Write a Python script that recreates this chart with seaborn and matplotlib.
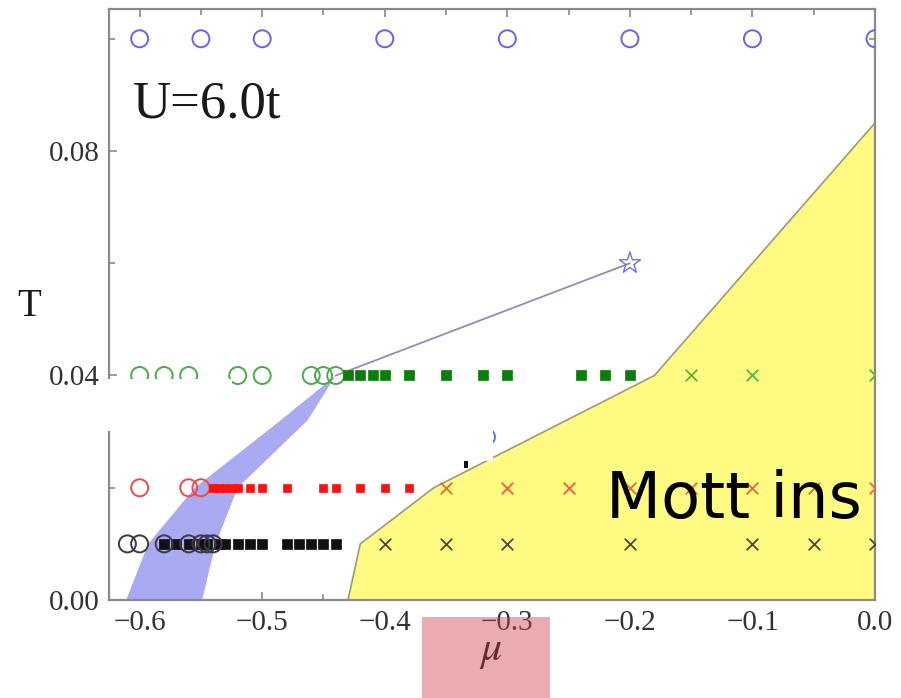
import numpy as np
import matplotlib
matplotlib.use("Agg")
import matplotlib.pyplot as plt
from matplotlib.patches import Rectangle, Arc
from matplotlib.ticker import MultipleLocator, FuncFormatter
import seaborn as sns

# ---- phase-diagram data (chemical potential mu, temperature T) ----
T_top = 0.10
mu_top = [-0.60, -0.55, -0.50, -0.40, -0.30, -0.20, -0.10, 0.00]

T_green = 0.04
mu_green_open = [-0.60, -0.58, -0.56, -0.52, -0.50, -0.46, -0.45, -0.44]
mu_green_filled = [-0.43, -0.42, -0.41, -0.40, -0.38, -0.35, -0.32, -0.30,
                   -0.24, -0.22, -0.20]
mu_green_x = [-0.15, -0.10, 0.00]

T_red = 0.02
mu_red_open = [-0.60, -0.56, -0.55]
mu_red_filled = [-0.54, -0.535, -0.53, -0.525, -0.52, -0.51, -0.50, -0.48,
                 -0.45, -0.44, -0.42, -0.40, -0.38]
mu_red_x = [-0.35, -0.30, -0.25, -0.20, -0.15, -0.10, -0.05, 0.00]

T_black = 0.01
mu_black_open = [-0.61, -0.60, -0.58, -0.56, -0.55, -0.545, -0.54]
mu_black_filled = [-0.58, -0.57, -0.56, -0.55, -0.545, -0.535, -0.53, -0.52,
                   -0.51, -0.50, -0.48, -0.47, -0.46, -0.45, -0.44]
mu_black_x = [-0.40, -0.35, -0.30, -0.20, -0.10, -0.05, 0.00]

# coexistence band
band_T = [0.00, 0.01, 0.02, 0.032, 0.04]
band_left_mu = [-0.611, -0.593, -0.555, -0.485, -0.44]
band_right_mu = [-0.549, -0.538, -0.520, -0.463, -0.44]

# first-order line ending at the critical point
line_mu = [-0.44, -0.20]
line_T = [0.04, 0.06]
crit_mu = [-0.20]
crit_T = [0.06]

# Mott insulator region boundary
mott_mu = [-0.43, -0.42, -0.36, -0.18, 0.00, 0.00]
mott_T = [0.00, 0.01, 0.02, 0.04, 0.085, 0.00]

xticks = [-0.6, -0.5, -0.4, -0.3, -0.2, -0.1, 0.0]
yticks = [0.00, 0.04, 0.08]

# ---- styling ----
sns.set_style("ticks")
plt.rcParams["font.family"] = ["Liberation Serif", "DejaVu Serif"]
plt.rcParams["mathtext.fontset"] = "stix"

W, H = 901, 698
fig = plt.figure(figsize=(W / 100, H / 100), dpi=100)
ax = fig.add_axes([109 / W, 1 - 600 / H, (875 - 109) / W, (600 - 9) / H])

# regions
ax.fill(mott_mu, mott_T, facecolor="#fffb82", edgecolor="#9c9c74",
        linewidth=1.2, zorder=1)
ax.fill(band_left_mu + band_right_mu[::-1], band_T + band_T[::-1],
        facecolor="#aaaaf2", edgecolor="none", zorder=1)
sns.lineplot(x=line_mu, y=line_T, ax=ax, color="#8e8eb8", linewidth=1.3,
             estimator=None, sort=False, zorder=2, legend=False)


def row(mu, T, **kw):
    sns.scatterplot(x=mu, y=[T] * len(mu), ax=ax, legend=False, zorder=3, **kw)


def open_row(mu, T, c):
    row(mu, T, marker="o", s=150, facecolors="none", edgecolor=c, linewidth=1.4)


def filled_row(mu, T, c, s=48):
    row(mu, T, marker="s", s=s, color=c, edgecolor=c, linewidth=0.5)


def cross_row(mu, T, c):
    row(mu, T, marker="x", s=70, color=c, linewidth=1.3)


open_row(mu_top, T_top, "#6464ee")

open_row(mu_green_open, T_green, "#4caa4c")
filled_row(mu_green_filled, T_green, "#0a7d0a")
cross_row(mu_green_x, T_green, "#5cb43c")

open_row(mu_red_open, T_red, "#ee4a4a")
filled_row(mu_red_filled, T_red, "#ff1010", s=36)
cross_row(mu_red_x, T_red, "#f0643a")

filled_row(mu_black_filled, T_black, "#111111")
open_row(mu_black_open, T_black, "#3a3a44")
cross_row(mu_black_x, T_black, "#4a4a3a")

sns.scatterplot(x=crit_mu, y=crit_T, ax=ax, marker="*", s=260,
                facecolors="none", edgecolor="#7070ee", linewidth=1.0,
                legend=False, zorder=3)

# annotations
ax.text((133 - 109) / 766, (600 - 118) / 591, "U=6.0t", transform=ax.transAxes,
        fontsize=38, family="Liberation Serif", color="#1a1a1a",
        va="baseline", ha="left", zorder=5)
ax.text((606 - 109) / 766, (600 - 518) / 591, "Mott ins", transform=ax.transAxes,
        fontsize=46, family="DejaVu Sans", color="black",
        va="baseline", ha="left", zorder=5)

# axes
ax.set_xlim(-0.625, 0.0)
ax.set_ylim(0.0, 0.1053)
ax.xaxis.set_major_locator(MultipleLocator(0.1))
ax.xaxis.set_minor_locator(MultipleLocator(0.05))
ax.yaxis.set_major_locator(MultipleLocator(0.04))
ax.yaxis.set_minor_locator(MultipleLocator(0.02))


def fmt(dec):
    def f(v, _):
        if abs(v) < 1e-9:
            v = 0.0
        return f"{v:.{dec}f}".replace("-", "\u2212")
    return FuncFormatter(f)


ax.xaxis.set_major_formatter(fmt(1))
ax.yaxis.set_major_formatter(fmt(2))
ax.tick_params(which="both", direction="in", top=True, right=True,
               color="#808080", width=1.1, labelcolor="#333333",
               labelsize=21, pad=7)
ax.tick_params(which="major", length=6)
ax.tick_params(which="minor", length=4)
for sp in ax.spines.values():
    sp.set_color("#8a8a8a")
    sp.set_linewidth(1.6)
ax.set_xlabel("")
ax.set_ylabel("")

fig.text(29 / W, 1 - 307 / H, "T", fontsize=28, family="Liberation Serif",
         color="#1a1a1a", ha="center", va="center")
fig.text(491 / W, 1 - 652 / H, r"$\mu$", fontsize=30, color="#1a1a1a",
         ha="center", va="center")


def px_rect(x0, y0, x1, y1, **kw):
    fig.add_artist(Rectangle((x0 / W, 1 - y1 / H), (x1 - x0) / W, (y1 - y0) / H,
                             transform=fig.transFigure, **kw))


# blanked-out areas and leftovers around them
fig.add_artist(Arc((487 / W, 1 - 437 / H), 16 / W, 16 / H, theta1=-60, theta2=60,
                   transform=fig.transFigure, color="#5070e0", lw=1.3, zorder=4))
px_rect(107, 379, 232, 431, facecolor="white", edgecolor="none", zorder=5)
px_rect(330, 419, 493, 461, facecolor="white", edgecolor="none", zorder=5)
px_rect(464, 461, 468, 468, facecolor="#111111", edgecolor="none", zorder=6)
px_rect(422, 617, 550, 698, facecolor="#cf404a", edgecolor="none", alpha=0.43,
        zorder=10)

fig.savefig("out.png", dpi=100)
